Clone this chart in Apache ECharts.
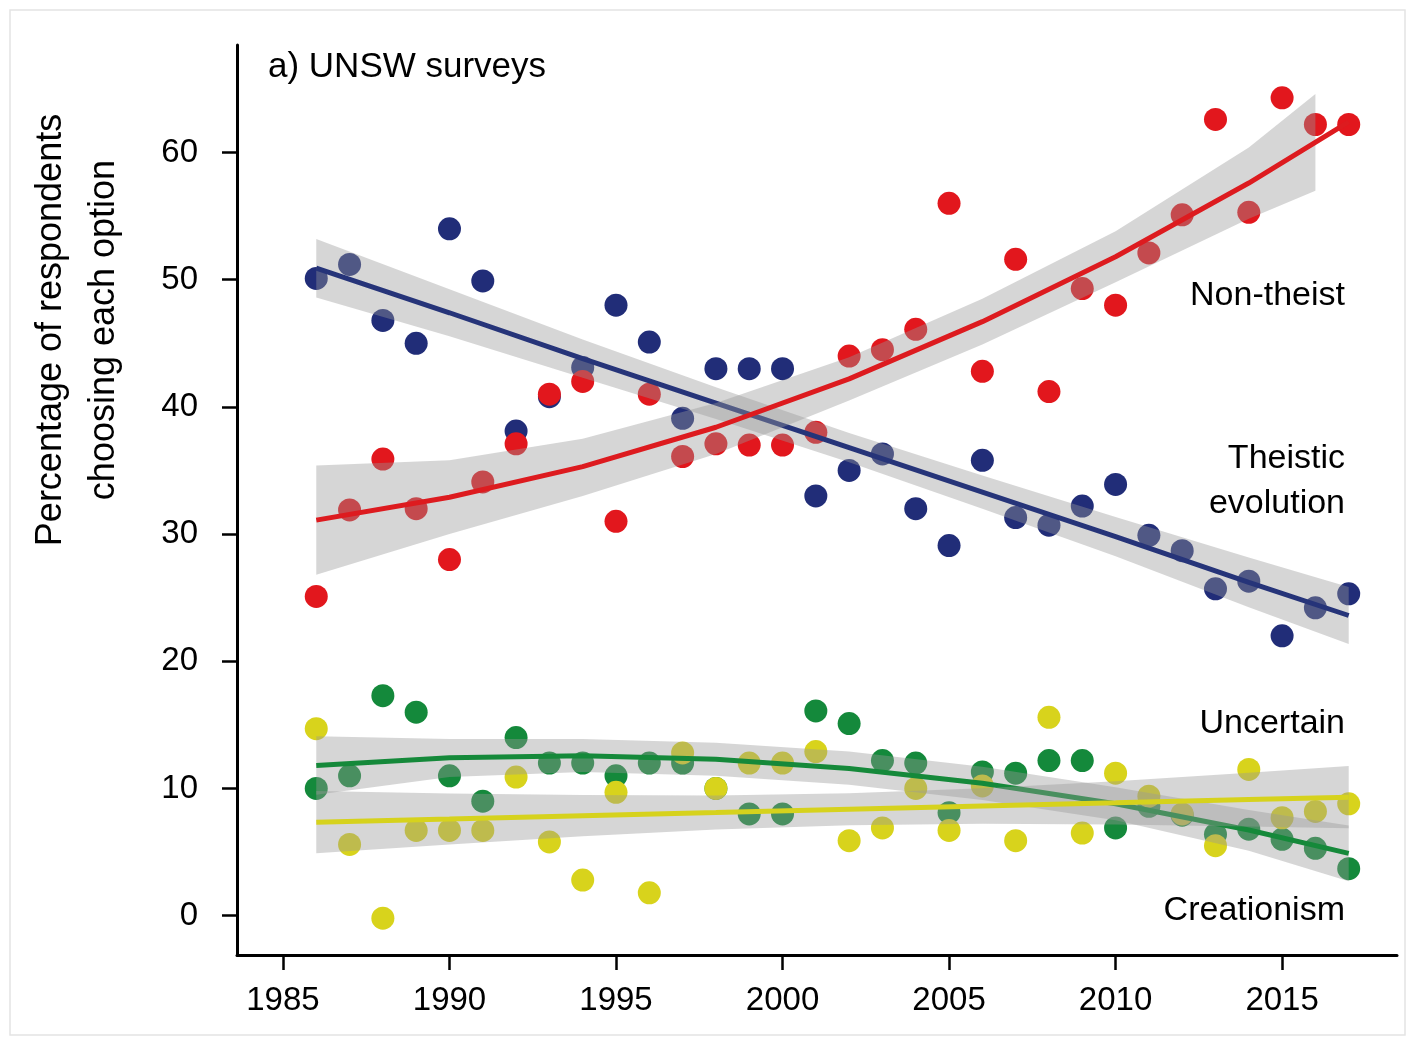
<!DOCTYPE html>
<html>
<head>
<meta charset="utf-8">
<script src="https://cdn.jsdelivr.net/npm/echarts@6/dist/echarts.min.js"></script>
<style>
html,body{margin:0;padding:0;background:#fff;}
#chart{width:1427px;height:1057px;}
</style>
</head>
<body>
<div id="chart"></div>
<script>
// ---- data ----
const years = [1986,1987,1988,1989,1990,1991,1992,1993,1994,1995,1996,1997,1998,1999,2000,2001,
               2002,2003,2004,2005,2006,2007,2008,2009,2010,2011,2012,2013,2014,2015,2016,2017];
const theisticEvolution = [50.1,51.2,46.8,45.0,54.0,49.9,38.1,40.8,43.1,48.0,45.1,39.1,43.0,43.0,43.0,33.0,
                           35.0,36.3,32.0,29.1,35.8,31.3,30.7,32.2,33.9,29.9,28.7,25.7,26.3,22.0,24.2,25.3];
const nonTheist = [25.1,31.9,35.9,32.0,28.0,34.1,37.1,41.0,42.0,31.0,41.0,36.1,37.1,37.0,37.0,38.0,
                   44.0,44.5,46.1,56.0,42.8,51.6,41.2,49.3,48.0,52.1,55.1,62.6,55.3,64.3,62.2,62.2];
const uncertain = [10.0,11.0,17.3,16.0,11.0,9.0,14.0,12.0,12.0,11.0,12.0,12.0,10.0,8.0,8.0,16.1,
                   15.1,12.2,12.0,8.1,11.3,11.2,12.2,12.2,6.9,8.6,7.9,6.4,6.8,6.0,5.3,3.7];
const creationism = [14.7,5.6,-0.2,6.7,6.7,6.7,10.9,5.8,2.8,9.7,1.8,12.8,10.0,12.0,12.0,12.9,
                     5.9,6.9,10.0,6.7,10.2,5.9,15.6,6.5,11.2,9.4,8.0,5.5,11.5,7.7,8.2,8.8];

// fitted trend lines and their confidence bands
const fitYears = [1986,1990,1994,1998,2002,2006,2010,2014,2017];
const theisticFit   = [50.9,47.4,43.8,40.3,36.8,33.3,29.8,26.2,23.6];
const theisticLow   = [48.6,45.55,42.3,39.05,35.65,32.0,28.25,24.25,21.35];
const theisticHigh  = [53.2,49.25,45.3,41.55,37.95,34.6,31.35,28.15,25.85];
const nonTheistFit  = [31.1,32.9,35.3,38.4,42.2,46.7,51.8,57.6,62.4];
const nonTheistBandYears = [1986,1990,1994,1998,2002,2006,2010,2014,2016];
const nonTheistLow  = [26.8,30.0,33.0,36.3,40.5,44.9,49.8,54.8,57.0];
const nonTheistHigh = [35.4,35.8,37.5,40.3,43.9,48.5,53.8,60.4,64.6];
const uncertainFit  = [11.8,12.41,12.58,12.3,11.58,10.41,8.8,6.74,4.9];
const uncertainLow  = [9.5,10.9,11.3,11.0,10.3,9.1,7.5,5.1,2.7];
const uncertainHigh = [14.1,13.9,13.9,13.6,12.9,11.7,10.1,8.3,7.1];
const creationFit   = [7.35,7.6,7.86,8.11,8.37,8.62,8.87,9.13,9.32];
const creationLow   = [4.9,5.6,6.24,6.77,7.11,7.23,7.17,7.02,6.87];
const creationHigh  = [9.8,9.6,9.48,9.45,9.63,10.01,10.57,11.24,11.77];

const xTicks = [1985,1990,1995,2000,2005,2010,2015];
const yTicks = [0,10,20,30,40,50,60];

// ---- styling ----
const FONT = '"Liberation Sans", Arial, sans-serif';
const C_BLUE = '#212d78', C_RED = '#e2171d', C_GREEN = '#14893b', C_YELLOW = '#d8d31c';
const BAND = 'rgba(153,153,153,0.4)';

function pairs(xs, ys){ return xs.map((x,i)=>[x, ys[i]]); }

function bandSeries(xs, lo, hi, z){
  return {
    type: 'custom', z: z, silent: true,
    data: xs.map((x,i)=>[x, lo[i], hi[i]]),
    encode: {x: 0, y: [1, 2]},
    renderItem: function(params, api){
      if (params.dataIndex !== 0) return null;
      const pts = [];
      for (let i = 0; i < xs.length; i++) pts.push(api.coord([xs[i], lo[i]]));
      for (let i = xs.length - 1; i >= 0; i--) pts.push(api.coord([xs[i], hi[i]]));
      return {type: 'polygon', shape: {points: pts}, style: {fill: BAND}};
    }
  };
}
function fitSeries(xs, ys, color, z){
  return {type: 'line', z: z, data: pairs(xs, ys), showSymbol: false, symbol: 'none', silent: true,
          lineStyle: {color: color, width: 5}, animation: false};
}
function pointSeries(ys, color){
  return {type: 'scatter', z: 2, data: pairs(years, ys), symbolSize: 23,
          itemStyle: {color: color, opacity: 1}, silent: true};
}

const chart = echarts.init(document.getElementById('chart'), null, {renderer: 'canvas'});
const labelStyle = {fontFamily: FONT, fontSize: 33, color: '#000'};

function txt(x, y, s, size, align){
  return {type: 'text', z: 10, style: {x: x, y: y, text: s, font: size + 'px ' + FONT, fill: '#000',
          textAlign: align, textVerticalAlign: 'middle'}};
}

chart.setOption({
  animation: false,
  backgroundColor: '#fff',
  grid: {left: 237, right: 30, top: 45, bottom: 102, containLabel: false},
  xAxis: {
    type: 'value', min: 1983.62, max: 2018.45,
    axisLine: {show: true, onZero: false, lineStyle: {color: '#000', width: 3}},
    axisTick: {show: true, inside: false, length: 15, customValues: xTicks, lineStyle: {color: '#000', width: 2.5}},
    axisLabel: Object.assign({customValues: xTicks, margin: 29, formatter: v => String(v)}, labelStyle),
    splitLine: {show: false}
  },
  yAxis: {
    type: 'value', min: -3.09, max: 68.45,
    axisLine: {show: true, onZero: false, lineStyle: {color: '#000', width: 3}},
    axisTick: {show: true, inside: false, length: 15, customValues: yTicks, lineStyle: {color: '#000', width: 2.5}},
    axisLabel: Object.assign({customValues: yTicks, margin: 39, formatter: v => String(v)}, labelStyle),
    splitLine: {show: false}
  },
  series: [
    pointSeries(theisticEvolution, C_BLUE),
    pointSeries(uncertain, C_GREEN),
    pointSeries(nonTheist, C_RED),
    pointSeries(creationism, C_YELLOW),
    bandSeries(fitYears, theisticLow, theisticHigh, 3),
    fitSeries(fitYears, theisticFit, '#263479', 4),
    bandSeries(fitYears, uncertainLow, uncertainHigh, 3),
    fitSeries(fitYears, uncertainFit, '#15893a', 4),
    bandSeries(nonTheistBandYears, nonTheistLow, nonTheistHigh, 5),
    fitSeries(fitYears, nonTheistFit, '#dd1b1f', 6),
    bandSeries(fitYears, creationLow, creationHigh, 5),
    fitSeries(fitYears, creationFit, '#d6d21d', 6)
  ],
  graphic: [
    {type: 'rect', z: 0, silent: true, shape: {x: 10, y: 10, width: 1395, height: 1025},
     style: {fill: 'none', stroke: '#e4e4e4', lineWidth: 1.5}},
    txt(268, 67, 'a) UNSW surveys', 35, 'left'),
    txt(1345, 296, 'Non-theist', 34, 'right'),
    txt(1345, 459, 'Theistic', 34, 'right'),
    txt(1345, 504, 'evolution', 34, 'right'),
    txt(1345, 724, 'Uncertain', 34, 'right'),
    txt(1345, 911, 'Creationism', 34, 'right'),
    {type: 'text', z: 10, x: 51, y: 330, rotation: Math.PI / 2,
     style: {x: 0, y: 0, text: 'Percentage of respondents', font: '36px ' + FONT, fill: '#000', textAlign: 'center', textVerticalAlign: 'middle'}},
    {type: 'text', z: 10, x: 104, y: 330, rotation: Math.PI / 2,
     style: {x: 0, y: 0, text: 'choosing each option', font: '36px ' + FONT, fill: '#000', textAlign: 'center', textVerticalAlign: 'middle'}}
  ]
});
</script>
</body>
</html>
